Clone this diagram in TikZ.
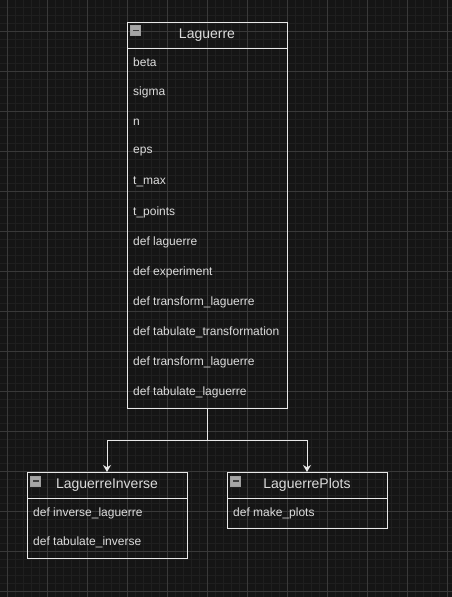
\documentclass[tikz,border=0pt]{standalone}
\usepackage{fontspec}
\setmainfont{Liberation Sans}
\usepackage{xcolor}
\usetikzlibrary{positioning,arrows.meta}

\definecolor{fondo}{HTML}{151515}
\definecolor{rejilla}{HTML}{1F1F1F}
\definecolor{rejillamayor}{HTML}{393939}
\definecolor{borde}{HTML}{E8E8E8}
\definecolor{texto}{HTML}{DCDCDC}

\begin{document}
\begin{tikzpicture}[x=1pt, y=-1pt,
  cabecera/.style={draw=borde, line width=0.9pt, minimum width=160pt, minimum height=26pt, inner sep=0pt, outer sep=0pt, text=texto, font=\fontsize{14}{16}\selectfont},
  cuerpo/.style={draw=borde, line width=0.9pt, minimum width=160pt, inner sep=0pt, outer sep=0pt},
  miembro/.style={anchor=west, inner sep=0pt, text=texto, font=\fontsize{12}{14}\selectfont},
  icono/.style={draw=gray!75, fill=gray!70, minimum size=10pt, inner sep=0pt, line width=0.6pt,
    path picture={\fill[black!75] ([xshift=2pt, yshift=-0.9pt]path picture bounding box.west) rectangle ([xshift=-2pt, yshift=0.9pt]path picture bounding box.east);}},
  flecha/.style={-{Stealth[length=7pt, width=8pt]}, draw=borde, line width=0.9pt}]
% fondo y rejilla
\fill[fondo] (0,0) rectangle (452,597);
\useasboundingbox (0,0) rectangle (452,597);
\foreach \x in {7,15,...,451} \draw[rejilla, line width=0.6pt] (\x,0) -- (\x,597);
\foreach \y in {7,15,...,596} \draw[rejilla, line width=0.6pt] (0,\y) -- (452,\y);
\foreach \x in {7,47,...,451} \draw[rejillamayor, line width=0.6pt] (\x,0) -- (\x,597);
\foreach \y in {31,71,...,596} \draw[rejillamayor, line width=0.6pt] (0,\y) -- (452,\y);

% clase Laguerre
\node[cabecera] (lag) at (207,35) {Laguerre};
\node[cuerpo, minimum height=360pt, below=0pt of lag] (lagc) {};
\node[icono] (lagi) at (135.5,30.5) {};
\foreach \m [count=\i from 0] in {beta, sigma, n, eps, t\_max, t\_points, def laguerre, def experiment, def transform\_laguerre, def tabulate\_transformation, def transform\_laguerre, def tabulate\_laguerre}
  \node[miembro] (lagm\i) at (133,{62+30*\i}) {\m};

% clase LaguerreInverse
\node[cabecera] (inv) at (107,485) {LaguerreInverse};
\node[cuerpo, minimum height=60pt, below=0pt of inv] (invc) {};
\node[icono] (invi) at (35.5,481) {};
\foreach \m [count=\i from 0] in {def inverse\_laguerre, def tabulate\_inverse}
  \node[miembro] (invm\i) at (33,{513+29*\i}) {\m};

% clase LaguerrePlots
\node[cabecera] (plt) at (307,485) {LaguerrePlots};
\node[cuerpo, minimum height=30pt, below=0pt of plt] (pltc) {};
\node[icono] (plti) at (235.5,481) {};
\node[miembro] (pltm0) at (233,513) {def make\_plots};

% herencia
\draw[flecha] (lagc.south) -- ++(0,32) -| (inv.north);
\draw[flecha] (lagc.south) -- ++(0,32) -| (plt.north);
\end{tikzpicture}
\end{document}
